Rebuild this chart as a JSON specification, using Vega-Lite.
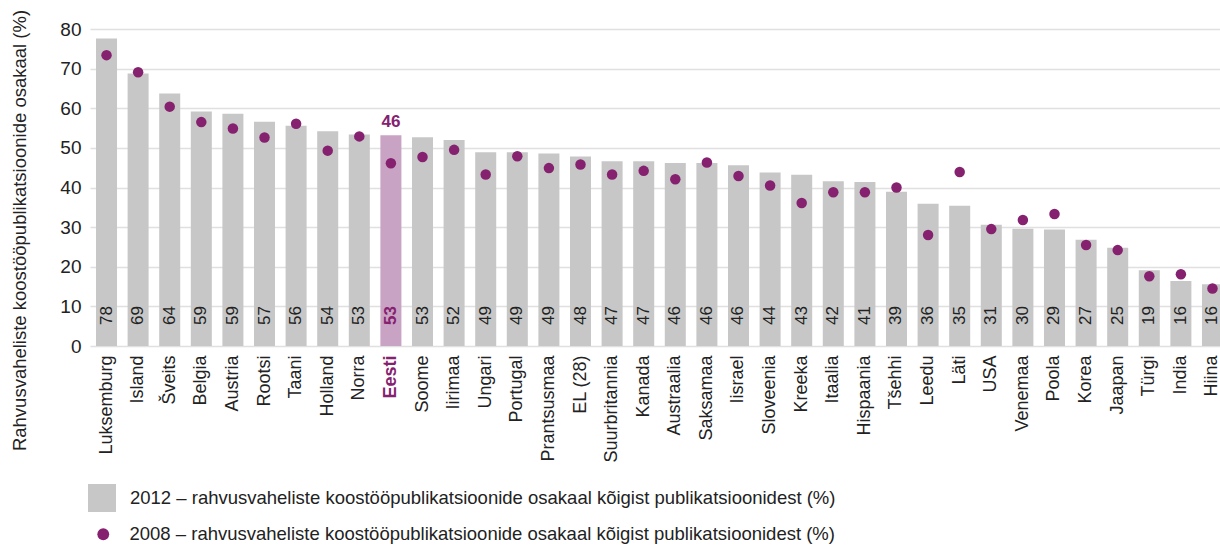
{
  "$schema": "https://vega.github.io/schema/vega-lite/v6.json",
  "autosize": "none",
  "padding": {"left": 90, "top": 29, "right": 0, "bottom": 199},
  "width": 1130,
  "height": 317,
  "config": {
    "view": {"stroke": null},
    "font": "Liberation Sans",
    "axisY": {
      "tickCount": 8,
      "labelOverlap": false,
      "domain": false,
      "ticks": false,
      "labelFontSize": 19,
      "labelColor": "#222222",
      "labelPadding": 9,
      "gridColor": "#e0e0e0",
      "gridWidth": 1.5,
      "titleFontSize": 18.5,
      "titleFontWeight": "normal",
      "titleColor": "#222222",
      "titleAngle": 270,
      "titleAlign": "center",
      "titleBaseline": "middle",
      "titleX": -71,
      "titleY": 201
    }
  },
  "data": {
    "values": [
      {"country": "Luksemburg", "v2012": 77.6, "v2008": 73.4},
      {"country": "Island", "v2012": 68.8, "v2008": 69.1},
      {"country": "Šveits", "v2012": 63.7, "v2008": 60.4},
      {"country": "Belgia", "v2012": 59.2, "v2008": 56.5},
      {"country": "Austria", "v2012": 58.6, "v2008": 54.9},
      {"country": "Rootsi", "v2012": 56.6, "v2008": 52.6},
      {"country": "Taani", "v2012": 55.6, "v2008": 56.1},
      {"country": "Holland", "v2012": 54.2, "v2008": 49.3},
      {"country": "Norra", "v2012": 53.4, "v2008": 52.9},
      {"country": "Eesti", "v2012": 53.2, "v2008": 46.1},
      {"country": "Soome", "v2012": 52.7, "v2008": 47.7},
      {"country": "Iirimaa", "v2012": 52.0, "v2008": 49.5},
      {"country": "Ungari", "v2012": 48.9, "v2008": 43.3},
      {"country": "Portugal", "v2012": 48.9, "v2008": 47.9},
      {"country": "Prantsusmaa", "v2012": 48.6, "v2008": 44.9},
      {"country": "EL (28)", "v2012": 47.8, "v2008": 45.8},
      {"country": "Suurbritannia", "v2012": 46.6, "v2008": 43.3},
      {"country": "Kanada", "v2012": 46.6, "v2008": 44.2},
      {"country": "Austraalia", "v2012": 46.2, "v2008": 42.1},
      {"country": "Saksamaa", "v2012": 46.2, "v2008": 46.3},
      {"country": "Iisrael", "v2012": 45.6, "v2008": 42.9},
      {"country": "Sloveenia", "v2012": 43.8, "v2008": 40.5},
      {"country": "Kreeka", "v2012": 43.2, "v2008": 36.1},
      {"country": "Itaalia", "v2012": 41.6, "v2008": 38.8},
      {"country": "Hispaania", "v2012": 41.4, "v2008": 38.8},
      {"country": "Tšehhi", "v2012": 38.9, "v2008": 40.0},
      {"country": "Leedu", "v2012": 35.9, "v2008": 28.0},
      {"country": "Läti", "v2012": 35.4, "v2008": 43.9},
      {"country": "USA", "v2012": 30.6, "v2008": 29.5},
      {"country": "Venemaa", "v2012": 29.6, "v2008": 31.8},
      {"country": "Poola", "v2012": 29.4, "v2008": 33.3},
      {"country": "Korea", "v2012": 26.8, "v2008": 25.5},
      {"country": "Jaapan", "v2012": 24.8, "v2008": 24.2},
      {"country": "Türgi", "v2012": 19.1, "v2008": 17.6},
      {"country": "India", "v2012": 16.4, "v2008": 18.1},
      {"country": "Hiina", "v2012": 15.6, "v2008": 14.5}
    ]
  },
  "encoding": {
    "x": {
      "field": "country",
      "type": "nominal",
      "sort": null,
      "scale": {"range": [0, 1139], "paddingInner": 0.335, "paddingOuter": 0.19},
      "axis": {
        "title": null,
        "domain": false,
        "ticks": false,
        "labelAngle": 270,
        "labelAlign": "right",
        "labelBaseline": "middle",
        "labelPadding": 9,
        "labelFontSize": 18,
        "labelLimit": 300,
        "labelColor": {"condition": {"test": "datum.value === 'Eesti'", "value": "#85216f"}, "value": "#222222"},
        "labelFontWeight": {"condition": {"test": "datum.value === 'Eesti'", "value": "bold"}, "value": "normal"}
      }
    }
  },
  "layer": [
    {
      "mark": {"type": "bar"},
      "encoding": {
        "y": {
          "field": "v2012",
          "type": "quantitative",
          "scale": {"domain": [0, 80], "nice": false},
          "axis": {"title": "Rahvusvaheliste koostööpublikatsioonide osakaal (%)"}
        },
        "color": {
          "condition": {"test": "datum.country === 'Eesti'", "value": "#c9a3c4"},
          "datum": "2012 – rahvusvaheliste koostööpublikatsioonide osakaal kõigist publikatsioonidest (%)",
          "type": "nominal",
          "scale": {"range": ["#c6c7c6"]},
          "legend": {
            "orient": "none",
            "legendX": -2,
            "legendY": 455,
            "title": null,
            "padding": 0,
            "symbolType": "square",
            "symbolSize": 784,
            "symbolStrokeWidth": 0,
            "labelFontSize": 18.5,
            "labelOffset": 14,
            "labelColor": "#222222",
            "labelLimit": 900
          }
        }
      }
    },
    {
      "transform": [{"filter": "datum.country !== 'Eesti'"}],
      "mark": {"type": "text", "angle": 270, "align": "left", "baseline": "middle", "dx": 21, "fontSize": 17, "color": "#222222"},
      "encoding": {
        "y": {"datum": 0, "type": "quantitative"},
        "text": {"field": "v2012", "type": "quantitative", "format": ".0f"}
      }
    },
    {
      "transform": [{"filter": "datum.country === 'Eesti'"}],
      "mark": {"type": "text", "angle": 270, "align": "left", "baseline": "middle", "dx": 21, "fontSize": 17, "fontWeight": "bold", "color": "#85216f"},
      "encoding": {
        "y": {"datum": 0, "type": "quantitative"},
        "text": {"field": "v2012", "type": "quantitative", "format": ".0f"}
      }
    },
    {
      "transform": [{"filter": "datum.country === 'Eesti'"}],
      "mark": {"type": "text", "align": "center", "baseline": "alphabetic", "dy": -8, "fontSize": 17, "fontWeight": "bold", "color": "#85216f"},
      "encoding": {
        "y": {"field": "v2012", "type": "quantitative"},
        "text": {"field": "v2008", "type": "quantitative", "format": ".0f"}
      }
    },
    {
      "mark": {"type": "point", "filled": true, "opacity": 1, "size": 110, "shape": "circle"},
      "encoding": {
        "y": {"field": "v2008", "type": "quantitative"},
        "fill": {
          "datum": "2008 – rahvusvaheliste koostööpublikatsioonide osakaal kõigist publikatsioonidest (%)",
          "type": "nominal",
          "scale": {"range": ["#85216f"]},
          "legend": {
            "orient": "none",
            "legendX": 4,
            "legendY": 496,
            "title": null,
            "padding": 0,
            "symbolType": "circle",
            "symbolSize": 140,
            "symbolStrokeWidth": 0,
            "symbolOpacity": 1,
            "labelFontSize": 18.5,
            "labelOffset": 17,
            "labelColor": "#222222",
            "labelLimit": 900
          }
        }
      }
    }
  ]
}
